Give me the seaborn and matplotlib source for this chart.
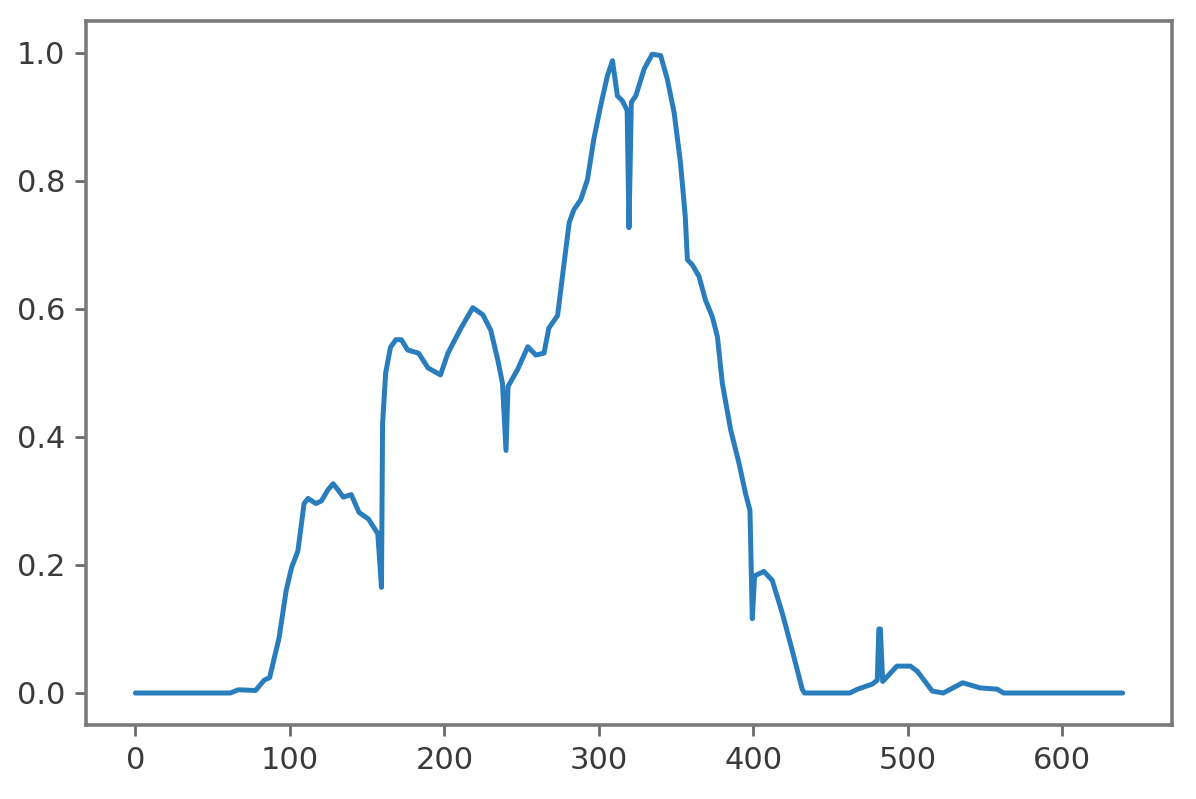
import matplotlib
matplotlib.use("Agg")
import matplotlib.pyplot as plt
import seaborn as sns

# Key points of the curve
x_vals = [0, 61.5, 66.6, 77.8, 83.4, 86.9, 93.0, 97.6, 101.1, 105.2, 109.2, 111.8,
          116.8, 120.4, 124.5, 128.0, 131.3, 134.6, 139.7, 144.8, 150.8, 156.9, 159.3,
          160.0, 162.0, 165.1, 168.6, 172.2, 176.2, 183.3, 189.4, 197.5, 202.3, 210.7,
          218.4, 224.9, 230.0, 234.6, 237.6, 239.9, 241.2, 247.3, 254.0, 259.2, 264.5,
          267.6, 273.3, 277.5, 280.8, 283.8, 288.3, 292.6, 296.7, 301.1, 305.5, 308.8,
          312.0, 315.3, 318.3, 319.5, 321.0, 323.9, 329.3, 334.5, 340.0, 344.3, 348.7,
          352.8, 355.9, 357.3, 360.5, 364.8, 369.0, 373.4, 376.7, 379.9, 385.3, 390.7,
          394.9, 397.8, 399.3, 400.8, 406.8, 412.2, 418.8, 425.2, 431.6, 433.0, 462.4,
          467.5, 477.0, 480.2, 481.2, 482.2, 483.7, 492.9, 501.6, 506.1, 515.8, 522.9,
          535.5, 546.7, 557.8, 561.9, 639]
y_vals = [0.0, 0.0, 0.005, 0.004, 0.02, 0.024, 0.086, 0.16, 0.196, 0.222, 0.296, 0.304,
          0.296, 0.3, 0.317, 0.327, 0.317, 0.306, 0.31, 0.282, 0.272, 0.249, 0.165,
          0.42, 0.5, 0.54, 0.552, 0.552, 0.536, 0.531, 0.508, 0.497, 0.531, 0.57, 0.602,
          0.591, 0.567, 0.52, 0.484, 0.379, 0.479, 0.505, 0.541, 0.528, 0.531, 0.57,
          0.59, 0.672, 0.735, 0.755, 0.771, 0.802, 0.865, 0.917, 0.964, 0.988, 0.933,
          0.925, 0.91, 0.727, 0.923, 0.933, 0.975, 0.998, 0.996, 0.959, 0.907, 0.829,
          0.745, 0.677, 0.669, 0.651, 0.614, 0.588, 0.557, 0.484, 0.411, 0.359, 0.312,
          0.285, 0.116, 0.183, 0.19, 0.176, 0.124, 0.066, 0.006, 0.0, 0.0, 0.006,
          0.014, 0.02, 0.1, 0.1, 0.018, 0.042, 0.042, 0.034, 0.003, 0.0, 0.016, 0.008,
          0.006, 0.0, 0.0]

x_ticks = [0, 100, 200, 300, 400, 500, 600]
y_ticks = [0.0, 0.2, 0.4, 0.6, 0.8, 1.0]

sns.set_style("ticks")
plt.rcParams['font.family'] = ['DejaVu Sans']

W, H = 1196, 799
dpi = W / 6
fig = plt.figure(figsize=(6, H / dpi), dpi=dpi)
ax = fig.add_axes([86 / W, 1 - 725 / H, (1172 - 86) / W, (725 - 21) / H])

sns.lineplot(x=x_vals, y=y_vals, ax=ax, color="#2a7dbc", linewidth=1.8)

ax.set_xticks(x_ticks)
ax.set_yticks(y_ticks)
ax.set_yticklabels([f"{v:.1f}" for v in y_ticks])
ax.set_xlim(-31.95, 670.95)
ax.set_ylim(-0.05, 1.05)
for s in ax.spines.values():
    s.set_visible(True)
    s.set_color("#7a7a7a")
    s.set_linewidth(1.3)
ax.tick_params(colors="#6a6a6a", labelcolor="#3a3a3a", labelsize=11, length=4, width=1.0)

fig.savefig("out.png", dpi=dpi)
